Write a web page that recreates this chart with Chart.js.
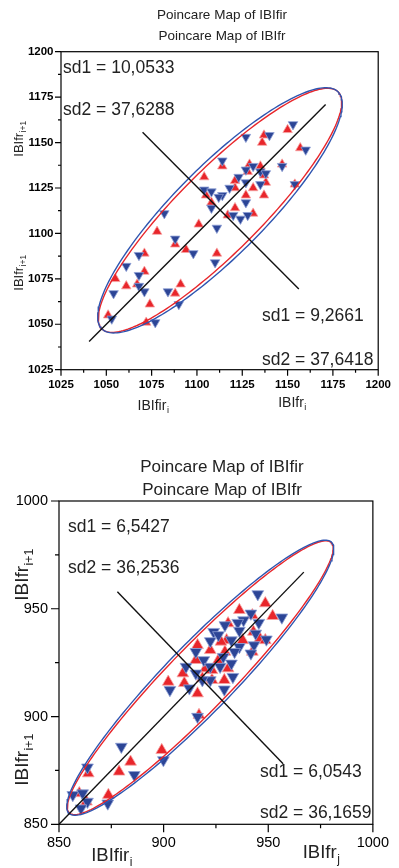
<!DOCTYPE html>
<html>
<head>
<meta charset="utf-8">
<script src="https://cdn.jsdelivr.net/npm/chart.js@4.4.1/dist/chart.umd.min.js"></script>
<style>
html, body { margin: 0; padding: 0; background: #fff; }
canvas { display: block; }
</style>
</head>
<body>
<canvas id="topChart" width="399" height="434"></canvas>
<canvas id="bottomChart" width="399" height="434"></canvas>
<script>
// ---- top map ----
var topRedX = [1150, 1137, 1136, 1157, 1114, 1104, 1121, 1129, 1135, 1138, 1121, 1105, 1108, 1127, 1137, 1131, 1121, 1131, 1117, 1101,
               1078, 1088, 1094, 1111, 1071, 1071, 1055, 1147, 1154, 1128, 1137, 1061, 1067, 1074, 1088, 1091, 1051, 1072];
var topRedY = [1157, 1154, 1150, 1147, 1137, 1131, 1129, 1138, 1137, 1128, 1125, 1121, 1117, 1121, 1121, 1125, 1114, 1111, 1110, 1105,
               1101, 1094, 1091, 1089, 1089, 1079, 1075, 1138, 1127, 1134, 1132, 1071, 1072, 1061, 1067, 1072, 1055, 1051];
var topBlueX = [1153, 1127, 1140, 1160, 1114, 1147, 1131, 1127, 1135, 1138, 1123, 1127, 1135, 1104, 1108, 1118, 1114, 1108, 1127, 1120,
                1128, 1124, 1111, 1082, 1088, 1098, 1110, 1068, 1061, 1068, 1154, 1112, 1054, 1068, 1071, 1084, 1090, 1077, 1053];
var topBlueY = [1160, 1153, 1154, 1146, 1140, 1137, 1137, 1135, 1134, 1133, 1131, 1128, 1127, 1124, 1123, 1125, 1121, 1114, 1117, 1110,
                1110, 1108, 1103, 1111, 1097, 1089, 1084, 1088, 1082, 1077, 1127, 1120, 1067, 1071, 1068, 1068, 1061, 1051, 1053];
var topSd1 = [10.0533, 9.2661];     // blue, red
var topSd2 = [37.6288, 37.6418];
var topCenter = [1112.7, 1112.7];
var topIdentity = [1040.5, 1171];          // x = y line, from / to
var topCrossX = [1070, 1156.2];            // perpendicular line
var topCrossY = [1155.7, 1069.4];

// ---- bottom map ----
var botRedX = [948.6, 936.2, 952.1, 942.4, 930.8, 942.9, 946.0, 930.1, 916.2, 937.8, 927.4, 922.3, 929.3, 942.4, 948.6, 915.4, 926.2, 930.8,
               920.0, 902.2, 909.9, 916.2, 929.0, 923.1, 923.1, 918.5, 909.2, 916.9, 899.1, 884.2, 878.7, 864.0, 873.6, 859.7, 863.1];
var botRedY = [952.5, 949.4, 946.6, 947.0, 943.2, 939.3, 936.2, 935.4, 933.1, 935.4, 934.7, 930.8, 930.0, 930.0, 935.4, 926.2, 926.2, 922.3,
               922.3, 916.1, 915.5, 910.7, 916.9, 916.9, 921.5, 917.7, 920.0, 900.7, 884.4, 879.0, 874.4, 873.6, 863.6, 864.4, 860.5];
var botBlueX = [945.0, 941.7, 956.5, 938.2, 935.4, 945.5, 929.3, 923.9, 926.2, 936.2, 944.0, 949.1, 932.4, 915.4, 922.3, 936.2, 943.2, 919.2,
                933.9, 941.7, 928.5, 922.3, 932.4, 927.0, 933.1, 903.0, 912.3, 929.0, 916.2, 922.3, 918.5, 910.7, 915.4, 879.8, 863.6, 886.0,
                899.9, 873.3, 856.6, 861.3, 863.6, 860.5];
var botBlueY = [956.8, 947.8, 946.0, 944.7, 943.5, 943.5, 942.4, 939.3, 937.8, 939.8, 938.5, 935.8, 935.4, 930.0, 935.0, 932.3, 933.1, 926.2,
                930.0, 929.3, 927.7, 923.1, 924.6, 923.1, 918.4, 912.3, 913.1, 912.6, 899.9, 916.9, 916.9, 923.1, 920.0, 886.0, 876.4, 872.9,
                879.8, 859.7, 863.6, 864.4, 860.5, 857.4];
var botSd1 = [6.5427, 6.0543];
var botSd2 = [36.2536, 36.1659];
var botCenter = [917.5, 918];
var botIdentity = [850, 967];
var botCrossX = [877.9, 957.1];
var botCrossY = [957.9, 878.1];

var RED = '#e8262b';
var BLUE = '#2c4596';
var FONT = '"Liberation Sans", Arial, sans-serif';
var K = 2.45; // ellipse scale on sd1 / sd2

function toPoints(xs, ys) {
    return xs.map(function (x, i) { return { x: x, y: ys[i] }; });
}

// ellipse on the identity line, axes along (1,1) and (-1,1)
function ellipsePoints(c, sd1, sd2) {
    var pts = [];
    var a = K * sd2, b = K * sd1, r = Math.SQRT1_2;
    for (var i = 0; i <= 200; i++) {
        var t = i / 200 * 2 * Math.PI;
        var u = a * Math.cos(t), v = b * Math.sin(t);
        pts.push({ x: c[0] + (u - v) * r, y: c[1] + (u + v) * r });
    }
    return pts;
}

// text with a subscript, centred on x,y
function drawSub(ctx, x, y, main, sub, size, angle) {
    var subSize = size * 0.65;
    ctx.save();
    ctx.translate(x, y);
    ctx.rotate(angle || 0);
    ctx.fillStyle = '#222';
    ctx.textAlign = 'left';
    ctx.textBaseline = 'alphabetic';
    ctx.font = size + 'px ' + FONT;
    var w1 = ctx.measureText(main).width;
    ctx.font = subSize + 'px ' + FONT;
    var w2 = ctx.measureText(sub).width;
    var x0 = -(w1 + w2) / 2;
    ctx.font = size + 'px ' + FONT;
    ctx.fillText(main, x0, size * 0.35);
    ctx.font = subSize + 'px ' + FONT;
    ctx.fillText(sub, x0 + w1 + 0.5, size * 0.35 + size * 0.25);
    ctx.restore();
}

// frame, minor ticks, titles, sd labels and axis names
var poincarePlugin = {
    id: 'poincare',
    afterDraw: function (chart, args, o) {
        var ctx = chart.ctx, a = chart.chartArea;
        var xs = chart.scales.x, ys = chart.scales.y;
        ctx.save();
        ctx.strokeStyle = '#000';
        ctx.lineWidth = 1.2;
        ctx.strokeRect(a.left, a.top, a.right - a.left, a.bottom - a.top);
        ctx.beginPath();
        for (var v = xs.min; v <= xs.max + 0.01; v += o.minor) {
            var len = Math.abs((v - xs.min) / o.major - Math.round((v - xs.min) / o.major)) < 0.01 ? o.majorLen : o.minorLen;
            var px = xs.getPixelForValue(v);
            ctx.moveTo(px, a.bottom);
            ctx.lineTo(px, a.bottom + len);
        }
        for (var w = ys.min; w <= ys.max + 0.01; w += o.minor) {
            var len2 = Math.abs((w - ys.min) / o.major - Math.round((w - ys.min) / o.major)) < 0.01 ? o.majorLen : o.minorLen;
            var py = ys.getPixelForValue(w);
            ctx.moveTo(a.left - len2, py);
            ctx.lineTo(a.left, py);
        }
        ctx.stroke();

        ctx.fillStyle = '#222';
        ctx.textAlign = 'center';
        ctx.textBaseline = 'middle';
        ctx.font = o.titleSize + 'px ' + FONT;
        ctx.fillText(o.titles[0], o.titleX, o.titleY[0]);
        ctx.fillText(o.titles[1], o.titleX, o.titleY[1]);

        ctx.textAlign = 'left';
        ctx.font = o.sdSize + 'px ' + FONT;
        o.sdText.forEach(function (s) { ctx.fillText(s[0], s[1], s[2]); });
        ctx.restore();

        o.yNames.forEach(function (n) { drawSub(ctx, n[2], n[3], n[0], n[1], o.ySize, -Math.PI / 2); });
        o.xNames.forEach(function (n) { drawSub(ctx, n[2], n[3], n[0], n[1], o.xSize, 0); });
    }
};

function poincareChart(id, p) {
    var datasets = [
        { data: [{ x: p.identity[0], y: p.identity[0] }, { x: p.identity[1], y: p.identity[1] }],
          showLine: true, borderColor: '#111', borderWidth: 1.4, pointRadius: 0, order: 0 },
        { data: [{ x: p.crossX[0], y: p.crossY[0] }, { x: p.crossX[1], y: p.crossY[1] }],
          showLine: true, borderColor: '#111', borderWidth: 1.4, pointRadius: 0, order: 0 },
        { data: ellipsePoints(p.center, p.sd1[0], p.sd2[0]), showLine: true, borderColor: '#2f55b0',
          borderWidth: 1.4, pointRadius: 0, order: 1 },
        { data: ellipsePoints(p.center, p.sd1[1], p.sd2[1]), showLine: true, borderColor: RED,
          borderWidth: 1.4, pointRadius: 0, order: 1 },
        { data: toPoints(p.blueX, p.blueY), pointStyle: 'triangle', pointRotation: 180, pointRadius: p.r,
          backgroundColor: BLUE, borderColor: '#8e9fd6', borderWidth: 0.8, order: 2 },
        { data: toPoints(p.redX, p.redY), pointStyle: 'triangle', pointRadius: p.r,
          backgroundColor: RED, borderColor: '#f7a5a5', borderWidth: 0.8, order: 3 }
    ];
    var tickFont = { family: FONT, size: p.tickSize, weight: p.tickWeight };
    return new Chart(document.getElementById(id).getContext('2d'), {
        type: 'scatter',
        data: { datasets: datasets },
        options: {
            responsive: false,
            animation: false,
            devicePixelRatio: 1,
            layout: { padding: p.padding },
            plugins: {
                legend: { display: false },
                tooltip: { enabled: false },
                poincare: p.deco
            },
            scales: {
                x: {
                    type: 'linear', min: p.range[0], max: p.range[1],
                    ticks: { stepSize: p.step, autoSkip: false, maxRotation: 0, color: '#000', font: tickFont,
                             padding: p.xPad, callback: function (v) { return String(v); } },
                    grid: { display: false, tickLength: 0 }, border: { display: false },
                    afterFit: function (s) { s.height = p.xHeight; }
                },
                y: {
                    type: 'linear', min: p.range[0], max: p.range[1],
                    ticks: { stepSize: p.step, autoSkip: false, color: '#000', font: tickFont,
                             padding: p.yPad, callback: function (v) { return String(v); } },
                    grid: { display: false, tickLength: 0 }, border: { display: false },
                    afterFit: function (s) { s.width = p.yWidth; }
                }
            }
        },
        plugins: [poincarePlugin]
    });
}

poincareChart('topChart', {
    redX: topRedX, redY: topRedY, blueX: topBlueX, blueY: topBlueY,
    sd1: topSd1, sd2: topSd2, center: topCenter,
    identity: topIdentity, crossX: topCrossX, crossY: topCrossY,
    range: [1025, 1200], step: 25, r: 5.5,
    tickSize: 11.5, tickWeight: 'bold', xPad: 8, yPad: 7.5,
    padding: { left: 0, right: 19.7, top: 51.7, bottom: 0 }, yWidth: 61, xHeight: 64.3,
    deco: {
        major: 25, minor: 12.5, majorLen: 6, minorLen: 3,
        titles: ['Poincare Map of IBIfir', 'Poincare Map of IBIfr'], titleSize: 13.5, titleX: 222, titleY: [15, 36.5],
        sdSize: 17.5,
        sdText: [['sd1 = 10,0533', 63, 68.5], ['sd2 = 37,6288', 63, 110], ['sd1 = 9,2661', 262, 316], ['sd2 = 37,6418', 262, 360]],
        ySize: 13, yNames: [['IBIfr', 'i+1', 18.5, 139], ['IBIfr', 'i+1', 18.5, 273]],
        xSize: 14, xNames: [['IBIfir', 'i', 153, 405], ['IBIfr', 'i', 292, 402]]
    }
});

poincareChart('bottomChart', {
    redX: botRedX, redY: botRedY, blueX: botBlueX, blueY: botBlueY,
    sd1: botSd1, sd2: botSd2, center: botCenter,
    identity: botIdentity, crossX: botCrossX, crossY: botCrossY,
    range: [850, 1000], step: 50, r: 6.8,
    tickSize: 14.5, tickWeight: 'normal', xPad: 10, yPad: 11,
    padding: { left: 0, right: 16.3, top: 67, bottom: 0 }, yWidth: 59, xHeight: 43.7,
    deco: {
        major: 50, minor: 25, majorLen: 8, minorLen: 4,
        titles: ['Poincare Map of IBIfir', 'Poincare Map of IBIfr'], titleSize: 17, titleX: 222, titleY: [33, 56],
        sdSize: 17.5,
        sdText: [['sd1 = 6,5427', 68, 93], ['sd2 = 36,2536', 68, 134], ['sd1 = 6,0543', 260, 338], ['sd2 = 36,1659', 260, 379]],
        ySize: 19, yNames: [['IBIfr', 'i+1', 21.4, 141], ['IBIfr', 'i+1', 21.4, 326]],
        xSize: 18.5, xNames: [['IBIfir', 'i', 111.5, 421], ['IBIfr', 'j', 321, 417.5]]
    }
});
</script>
</body>
</html>
